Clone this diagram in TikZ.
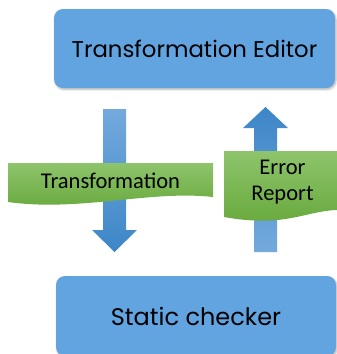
\documentclass[tikz,border=0pt]{standalone}
\usepackage{fontspec}
\setmainfont{Carlito}
\newfontfamily\boxfont{Poppins}
\usetikzlibrary{shadows.blur}
\definecolor{boxblue}{HTML}{62A4E0}
\definecolor{arrlight}{HTML}{74AADD}
\definecolor{arrdark}{HTML}{3D86C7}
\definecolor{grtop}{HTML}{8EC46C}
\definecolor{grbot}{HTML}{66A83A}
\tikzset{
  bigbox/.style={rectangle, rounded corners=9pt, fill=boxblue, draw=none,
    blur shadow={shadow xshift=1pt, shadow yshift=-1.5pt, shadow blur steps=6, shadow opacity=30},
    text=black},
  bannertext/.style={font=\fontsize{22.5}{27}\selectfont, text=black, align=center}
}
\begin{document}
\begin{tikzpicture}[x=1pt,y=-1pt]
\useasboundingbox (0,0) rectangle (337,354);
% boxes
\node[bigbox, minimum width=281pt, minimum height=79pt, font=\boxfont\fontsize{22.8}{27}\selectfont] (editor) at (194.5,48.5) {Transformation Editor};
\node[bigbox, minimum width=280pt, minimum height=80pt, font=\boxfont\fontsize{24}{28}\selectfont] (checker) at (196,316) {Static checker};
% down arrow
\coordinate (dtip) at (114.5,252);
\shade[top color=arrlight, bottom color=arrdark]
  (103,109) -- (126,109) -- (126,230) -- (137,230) -- (dtip) -- (92,230) -- (103,230) -- cycle;
% up arrow
\coordinate (utip) at (265.5,107);
\shade[top color=arrdark, bottom color=arrlight]
  (utip) -- (288,128) -- (277,128) -- (277,252) -- (254,252) -- (254,128) -- (243,128) -- cycle;
% banners
\shade[top color=grtop, bottom color=grbot]
  (8,163) -- (213,163) -- (213,197) .. controls (150,190) and (80,212) .. (8,202) -- cycle;
\shade[top color=grtop, bottom color=grbot]
  (224,151) -- (337,151) -- (337,210) .. controls (305,211) and (285,228) .. (224,217) -- cycle;
\node[bannertext] (trans) at (110.5,181) {Transformation};
\node[bannertext, text width=100pt] (err) at (282.5,182) {Error\\[-1pt]Report};
\end{tikzpicture}
\end{document}
